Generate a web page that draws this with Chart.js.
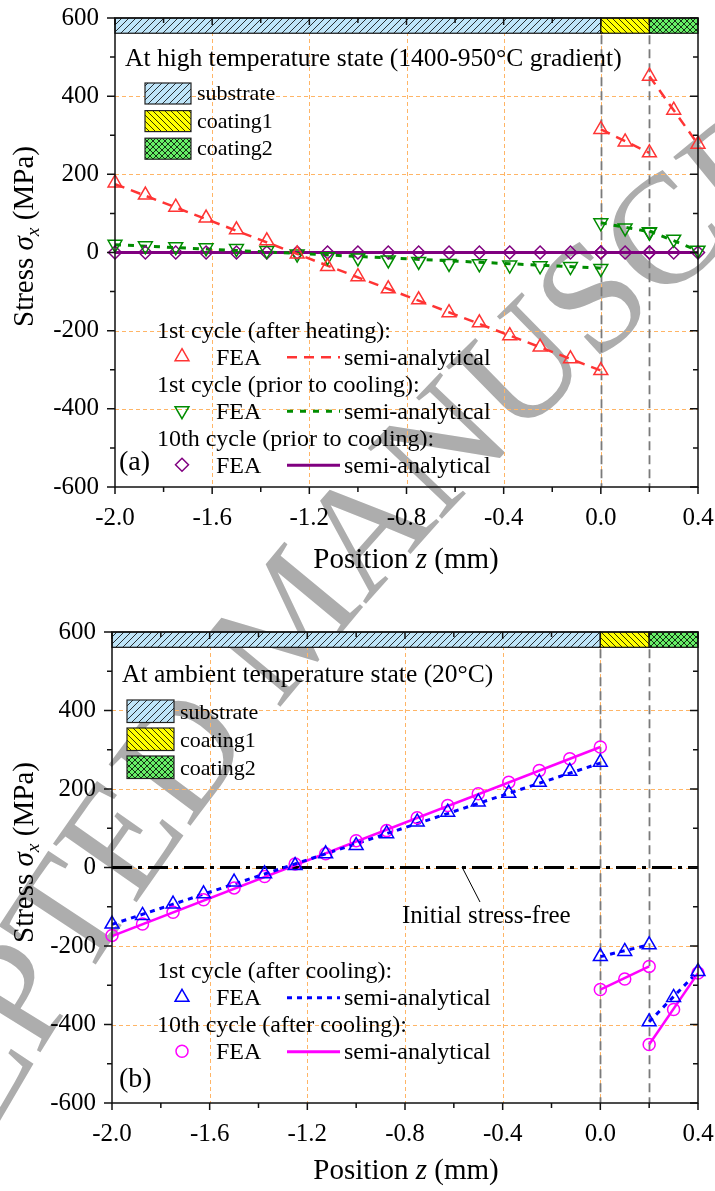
<!DOCTYPE html>
<html>
<head>
<meta charset="utf-8">
<script src="https://cdn.jsdelivr.net/npm/chart.js@4.4.1/dist/chart.umd.min.js"></script>
<style>
  html, body { margin: 0; padding: 0; background: #fff; }
  #wrap { position: relative; width: 715px; height: 1191px; overflow: hidden; background: #fff; }
  #wrap canvas { position: absolute; left: 0; }
</style>
</head>
<body>
<div id="wrap">
  <canvas id="stamp" width="715" height="1191" style="top:0"></canvas>
  <canvas id="panelA" width="715" height="595" style="top:0"></canvas>
  <canvas id="panelB" width="715" height="596" style="top:595px"></canvas>
</div>
<script>
// ---------- data ----------
// node positions along z (mm) in each layer
const zSubstrate = [-2.0, -1.875, -1.75, -1.625, -1.5, -1.375, -1.25, -1.125, -1.0,
                    -0.875, -0.75, -0.625, -0.5, -0.375, -0.25, -0.125, 0.0];
const zCoating1 = [0.0, 0.1, 0.2];
const zCoating2 = [0.2, 0.3, 0.4];
// end points of the semi-analytical solution in each layer
const zLineSub = [-2.0, 0.0];
const zLineC1 = [0.0, 0.2];
const zLineC2 = [0.2, 0.4];
const zLineAll = [-2.0, 0.4];

const xTicks = [-2.0, -1.6, -1.2, -0.8, -0.4, 0.0, 0.4];
const xMinorTicks = [-1.8, -1.4, -1.0, -0.6, -0.2, 0.2];
const yTicks = [-600, -400, -200, 0, 200, 400, 600];
const yMinorTicks = [-500, -300, -100, 100, 300, 500];

const layerNames = ['substrate', 'coating1', 'coating2'];
const layerSpans = [[-2.0, 0.0], [0.0, 0.2], [0.2, 0.4]];
const interfaces = [0.0, 0.2];

// (a) high temperature state, 1st cycle after heating
const heatFeaSub = [178, 147, 116, 88, 58, 30, -4, -36, -62, -93, -121, -154, -180, -213, -242, -272, -302];
const heatFeaC1 = [315, 283, 255];
const heatFeaC2 = [451, 364, 277];
const heatSemiSub = [175, -302];
const heatSemiC1 = [315, 255];
const heatSemiC2 = [451, 277];

// (a) 1st cycle prior to cooling
const holdFeaSub = [21, 17, 15, 12, 10, 5, -4, -11, -14, -19, -23, -28, -29, -32, -34, -36, -41];
const holdFeaC1 = [76, 63, 53];
const holdFeaC2 = [52, 34, 6];
const holdSemiSub = [20, -40];
const holdSemiC1 = [76, 53];
const holdSemiC2 = [55, 5];

// (a) 10th cycle prior to cooling
const hold10FeaSub = [0, 0, 0, 0, 0, 0, 0, 0, 0, 0, 0, 0, 0, 0, 0, 0, 0];
const hold10FeaC1 = [0, 0, 0];
const hold10FeaC2 = [0, 0, 0];
const hold10Semi = [0, 0];

// (b) 1st cycle after cooling
const coolFeaSub = [-144, -122, -93, -67, -37, -16, 5, 35, 56, 86, 116, 141, 167, 189, 217, 245, 268];
const coolFeaC1 = [-227, -214, -197];
const coolFeaC2 = [-393, -331, -265];
const coolSemiSub = [-145, 266];
const coolSemiC1 = [-227, -197];
const coolSemiC2 = [-393, -265];

// (b) 10th cycle after cooling
const cool10FeaSub = [-173, -144, -114, -82, -52, -23, 9, 35, 68, 94, 127, 158, 188, 217, 247, 277, 307];
const cool10FeaC1 = [-311, -284, -252];
const cool10FeaC2 = [-451, -362, -269];
const cool10SemiSub = [-175, 307];
const cool10SemiC1 = [-311, -252];
const cool10SemiC2 = [-451, -269];

// (b) reference: initial stress-free state
const stressFree = [0, 0];

// ---------- styling helpers ----------
const SERIF = "'Liberation Serif','Times New Roman',serif";
const fnt = (size, italic) => (italic ? 'italic ' : '') + size + 'px ' + SERIF;

const RED = '#ff3434', GREEN = '#008c00', PURPLE = '#800080', BLUE = '#0000ff', MAGENTA = '#ff00ff';
const DASH_RED = [10, 7], DOT_GREEN = [6, 7], DOT_BLUE = [5, 5], DASH_DOT = [20, 6, 4, 6];

const pts = (xs, ys) => xs.map((x, i) => ({ x, y: ys[i] }));

function markerSet(data, color, style, rotation, radius) {
  return {
    data, showLine: false, clip: false,
    pointStyle: style, pointRotation: rotation || 0, pointRadius: radius,
    pointBorderColor: color, pointBackgroundColor: 'rgba(0,0,0,0)', pointBorderWidth: 1.5,
    borderColor: color, backgroundColor: 'rgba(0,0,0,0)'
  };
}
function curveSet(data, color, dash, width) {
  return {
    data, showLine: true, pointRadius: 0, borderColor: color, backgroundColor: color,
    borderWidth: width, borderDash: dash || [], fill: false, tension: 0
  };
}

function layerPattern(ctx, name) {
  const s = name === 'substrate' ? 7 : 6;
  const c = document.createElement('canvas');
  c.width = s; c.height = s;
  const g = c.getContext('2d');
  g.fillStyle = name === 'substrate' ? '#bfe5f9' : name === 'coating1' ? '#ffff00' : '#66ee66';
  g.fillRect(0, 0, s, s);
  g.strokeStyle = '#000';
  g.lineWidth = 0.8;
  g.beginPath();
  if (name !== 'coating1') {           // "/" strokes
    g.moveTo(-1, s + 1); g.lineTo(s + 1, -1);
    g.moveTo(-1, 1); g.lineTo(1, -1);
    g.moveTo(s - 1, s + 1); g.lineTo(s + 1, s - 1);
  }
  if (name !== 'substrate') {          // "\" strokes
    g.moveTo(-1, -1); g.lineTo(s + 1, s + 1);
    g.moveTo(s - 1, -1); g.lineTo(s + 1, 1);
    g.moveTo(-1, s - 1); g.lineTo(1, s + 1);
  }
  g.stroke();
  return ctx.createPattern(c, 'repeat');
}

function drawMarker(ctx, style, x, y, r, color) {
  ctx.save();
  ctx.strokeStyle = color; ctx.lineWidth = 1.5; ctx.setLineDash([]);
  ctx.beginPath();
  if (style === 'triangle' || style === 'triangleDown') {
    const d = style === 'triangle' ? 1 : -1;
    ctx.moveTo(x, y - d * r);
    ctx.lineTo(x + r * 0.866, y + d * r / 2);
    ctx.lineTo(x - r * 0.866, y + d * r / 2);
    ctx.closePath();
  } else if (style === 'rectRot') {
    ctx.moveTo(x, y - r); ctx.lineTo(x + r, y); ctx.lineTo(x, y + r); ctx.lineTo(x - r, y); ctx.closePath();
  } else {
    ctx.arc(x, y, r, 0, Math.PI * 2);
  }
  ctx.stroke();
  ctx.restore();
}

function put(ctx, str, x, y, size, italic, align) {
  ctx.font = fnt(size, italic);
  ctx.fillStyle = '#000';
  ctx.textAlign = align || 'left';
  ctx.textBaseline = 'alphabetic';
  ctx.fillText(str, x, y);
  return ctx.measureText(str).width;
}

// text made of runs: [string, italic, sizeScale, baselineShift]
function runsWidth(ctx, runs, size) {
  let w = 0;
  for (const [s, it, k] of runs) { ctx.font = fnt(size * (k || 1), it); w += ctx.measureText(s).width; }
  return w;
}
function putRuns(ctx, runs, x, y, size) {
  let cx = x;
  for (const [s, it, k, dy] of runs) cx += put(ctx, s, cx, y + (dy || 0), size * (k || 1), it);
}

// ---------- manuscript stamp behind both panels ----------
(function drawStamp() {
  const ctx = document.getElementById('stamp').getContext('2d');
  const text = 'ACCEPTED MANUSCRIPT';
  const size = 156;
  const cx = 2877, cy = 2771, R = 3368;          // arc the letters follow
  ctx.font = fnt(size);
  ctx.fillStyle = '#adadad';
  ctx.textAlign = 'center';
  ctx.textBaseline = 'alphabetic';
  const adv = [...text].map(ch => ctx.measureText(ch).width);
  // anchor: centre of the "U"
  const iU = text.indexOf('U');
  const thetaU = Math.atan2(362 - cy, 516 - cx);
  let s = 0;
  const centres = [];
  for (let i = 0; i < text.length; i++) {
    if (i > 0) s += (adv[i - 1] + adv[i]) / 2;
    centres.push(s);
  }
  const sU = centres[iU];
  for (let i = 0; i < text.length; i++) {
    const th = thetaU + (centres[i] - sU) / R;
    const px = cx + R * Math.cos(th), py = cy + R * Math.sin(th);
    ctx.save();
    ctx.translate(px, py);
    ctx.rotate(th + Math.PI / 2);
    ctx.fillText(text[i], 0, size * 0.33);
    ctx.restore();
  }
})();

// ---------- panel decoration plugin ----------
const panelDecor = {
  id: 'panelDecor',
  beforeDatasetsDraw(chart, args, o) {
    const { ctx, chartArea: a, scales: { x, y } } = chart;
    ctx.save();
    // orange dashed grid
    ctx.strokeStyle = '#ffb566';
    ctx.lineWidth = 1;
    ctx.setLineDash([4, 3]);
    ctx.beginPath();
    for (const v of xTicks) {
      const p = Math.round(x.getPixelForValue(v)) + 0.5;
      if (p <= a.left + 1 || p >= a.right - 1) continue;
      ctx.moveTo(p, a.top); ctx.lineTo(p, a.bottom);
    }
    for (const v of yTicks) {
      const p = Math.round(y.getPixelForValue(v)) + 0.5;
      if (p <= a.top + 1 || p >= a.bottom - 1) continue;
      ctx.moveTo(a.left, p); ctx.lineTo(a.right, p);
    }
    ctx.stroke();

    // layer band along the top edge
    const bandTop = y.getPixelForValue(600), bandBot = y.getPixelForValue(o.bandBottom);
    ctx.setLineDash([]);
    layerSpans.forEach((sp, i) => {
      const x0 = x.getPixelForValue(sp[0]), x1 = x.getPixelForValue(sp[1]);
      ctx.fillStyle = layerPattern(ctx, layerNames[i]);
      ctx.fillRect(x0, bandTop, x1 - x0, bandBot - bandTop);
      ctx.strokeStyle = '#111'; ctx.lineWidth = 1.2;
      ctx.strokeRect(x0, bandTop, x1 - x0, bandBot - bandTop);
    });

    // layer interfaces
    ctx.strokeStyle = '#7a7a7a';
    ctx.lineWidth = 1.8;
    ctx.setLineDash([9, 5]);
    ctx.beginPath();
    for (const v of interfaces) {
      const p = Math.round(x.getPixelForValue(v)) + 0.5;
      ctx.moveTo(p, bandBot + 2); ctx.lineTo(p, a.bottom);
    }
    ctx.stroke();
    ctx.restore();
  },
  afterDatasetsDraw(chart, args, o) {
    const { ctx, chartArea: a, scales: { x, y } } = chart;
    ctx.save();
    ctx.setLineDash([]);
    ctx.strokeStyle = '#111';
    ctx.lineWidth = 1.5;
    ctx.strokeRect(a.left, a.top, a.right - a.left, a.bottom - a.top);
    ctx.beginPath();
    const xt = (v, len) => {
      const p = x.getPixelForValue(v);
      ctx.moveTo(p, a.bottom); ctx.lineTo(p, a.bottom + len);
      ctx.moveTo(p, a.top); ctx.lineTo(p, a.top + len);
    };
    const yt = (v, len) => {
      const p = y.getPixelForValue(v);
      ctx.moveTo(a.left, p); ctx.lineTo(a.left - len, p);
      ctx.moveTo(a.right, p); ctx.lineTo(a.right - len, p);
    };
    xTicks.forEach(v => xt(v, 7)); xMinorTicks.forEach(v => xt(v, 5));
    yTicks.forEach(v => yt(v, 8)); yMinorTicks.forEach(v => yt(v, 5));
    ctx.stroke();
    ctx.restore();
  },
  afterDraw(chart, args, o) {
    const { ctx } = chart;
    ctx.save();
    // state caption
    put(ctx, o.caption.text, o.caption.x, o.caption.y, 25.5);

    // layer legend
    const L = o.layerKey;
    layerNames.forEach((n, i) => {
      const top = L.y + i * L.dy;
      ctx.fillStyle = layerPattern(ctx, n);
      ctx.fillRect(L.x, top, L.w, L.h);
      ctx.strokeStyle = '#222'; ctx.lineWidth = 1.2; ctx.setLineDash([]);
      ctx.strokeRect(L.x, top, L.w, L.h);
      put(ctx, n, L.x + L.w + 6, top + L.h - 4, 22);
    });

    // series legend
    const S = o.seriesKey;
    S.groups.forEach((g, i) => {
      const yh = S.y + i * 2 * S.dy, yi = yh + S.dy;
      put(ctx, g.head, S.x, yh, 24);
      drawMarker(ctx, g.marker, S.markerX, yi - 8, g.radius, g.color);
      put(ctx, 'FEA', S.feaX, yi, 24);
      ctx.strokeStyle = g.color; ctx.lineWidth = g.width; ctx.setLineDash(g.dash);
      ctx.beginPath(); ctx.moveTo(S.lineX0, yi - 7.5); ctx.lineTo(S.lineX1, yi - 7.5); ctx.stroke();
      ctx.setLineDash([]);
      put(ctx, 'semi-analytical', S.lineX1 + 4, yi, 24);
    });

    // panel tag
    put(ctx, o.tag.text, o.tag.x, o.tag.y, 28);

    // annotation
    if (o.note) {
      const N = o.note;
      ctx.strokeStyle = '#000'; ctx.lineWidth = 1; ctx.setLineDash([]);
      ctx.beginPath(); ctx.moveTo(N.from[0], N.from[1]); ctx.lineTo(N.to[0], N.to[1]); ctx.stroke();
      put(ctx, N.text, N.x, N.y, 25);
    }

    // axis titles
    const xRuns = [['Position ', false], ['z', true], [' (mm)', false]];
    const xw = runsWidth(ctx, xRuns, 29);
    putRuns(ctx, xRuns, o.xTitle.cx - xw / 2, o.xTitle.y, 29);

    const yRuns = [['Stress ', false], ['σ', true], ['x', true, 0.68, 6], [' (MPa)', false]];
    ctx.save();
    ctx.translate(o.yTitle.x, o.yTitle.y);
    ctx.rotate(-Math.PI / 2);
    putRuns(ctx, yRuns, 0, 0, 29);
    ctx.restore();
    ctx.restore();
  }
};

// ---------- chart factory ----------
function makePanel(canvasId, datasets, box, decor) {
  const canvas = document.getElementById(canvasId);
  const H = canvas.height;
  return new Chart(canvas, {
    type: 'scatter',
    data: { datasets },
    plugins: [panelDecor],
    options: {
      responsive: false,
      animation: false,
      devicePixelRatio: 1,
      layout: { padding: { top: box.top, right: 715 - box.right, left: 0, bottom: 0 } },
      plugins: { legend: { display: false }, tooltip: { enabled: false }, panelDecor: decor },
      scales: {
        x: {
          type: 'linear', min: -2.0, max: 0.4,
          afterBuildTicks: s => { s.ticks = xTicks.map(v => ({ value: v })); },
          afterFit: s => { s.height = H - box.bottom; s.paddingLeft = 0; s.paddingRight = 0; },
          grid: { display: false, drawTicks: false }, border: { display: false },
          ticks: { padding: 16, color: '#000', font: { family: SERIF, size: 25 },
                   callback: v => (Math.abs(v) < 1e-9 ? 0 : v).toFixed(1), maxRotation: 0 }
        },
        y: {
          type: 'linear', min: -600, max: 600,
          afterBuildTicks: s => { s.ticks = yTicks.map(v => ({ value: v })); },
          afterFit: s => { s.width = box.left; s.paddingTop = 0; s.paddingBottom = 0; },
          grid: { display: false, drawTicks: false }, border: { display: false },
          ticks: { padding: 16, color: '#000', font: { family: SERIF, size: 25 },
                   callback: v => String(Math.round(v)) }
        }
      }
    }
  });
}

// ---------- panel (a): high temperature ----------
makePanel('panelA', [
  markerSet(pts(zSubstrate, heatFeaSub).concat(pts(zCoating1, heatFeaC1), pts(zCoating2, heatFeaC2)), RED, 'triangle', 0, 8),
  markerSet(pts(zSubstrate, holdFeaSub).concat(pts(zCoating1, holdFeaC1), pts(zCoating2, holdFeaC2)), GREEN, 'triangle', 180, 8),
  markerSet(pts(zSubstrate, hold10FeaSub).concat(pts(zCoating1, hold10FeaC1), pts(zCoating2, hold10FeaC2)), PURPLE, 'rectRot', 0, 6.5),
  curveSet(pts(zLineSub, heatSemiSub), RED, DASH_RED, 2.5),
  curveSet(pts(zLineC1, heatSemiC1), RED, DASH_RED, 2.5),
  curveSet(pts(zLineC2, heatSemiC2), RED, DASH_RED, 2.5),
  curveSet(pts(zLineSub, holdSemiSub), GREEN, DOT_GREEN, 3),
  curveSet(pts(zLineC1, holdSemiC1), GREEN, DOT_GREEN, 3),
  curveSet(pts(zLineC2, holdSemiC2), GREEN, DOT_GREEN, 3),
  curveSet(pts(zLineAll, hold10Semi), PURPLE, [], 3)
], { left: 115, right: 698, top: 18, bottom: 487 }, {
  bandBottom: 561,
  caption: { text: 'At high temperature state (1400-950°C gradient)', x: 125, y: 66 },
  layerKey: { x: 145, y: 83, w: 46, h: 21, dy: 27.6 },
  seriesKey: {
    x: 157, y: 337.7, dy: 27, markerX: 182, feaX: 216, lineX0: 287, lineX1: 340,
    groups: [
      { head: '1st cycle (after heating):', marker: 'triangle', radius: 8, color: RED, dash: DASH_RED, width: 2.5 },
      { head: '1st cycle (prior to cooling):', marker: 'triangleDown', radius: 8, color: GREEN, dash: DOT_GREEN, width: 3 },
      { head: '10th cycle (prior to cooling):', marker: 'rectRot', radius: 6.5, color: PURPLE, dash: [], width: 3 }
    ]
  },
  tag: { text: '(a)', x: 119, y: 470 },
  xTitle: { cx: 406, y: 568 },
  yTitle: { x: 33, y: 327 }
});

// ---------- panel (b): ambient temperature ----------
makePanel('panelB', [
  markerSet(pts(zSubstrate, coolFeaSub).concat(pts(zCoating1, coolFeaC1), pts(zCoating2, coolFeaC2)), BLUE, 'triangle', 0, 8),
  markerSet(pts(zSubstrate, cool10FeaSub).concat(pts(zCoating1, cool10FeaC1), pts(zCoating2, cool10FeaC2)), MAGENTA, 'circle', 0, 6),
  curveSet(pts(zLineSub, coolSemiSub), BLUE, DOT_BLUE, 3),
  curveSet(pts(zLineC1, coolSemiC1), BLUE, DOT_BLUE, 3),
  curveSet(pts(zLineC2, coolSemiC2), BLUE, DOT_BLUE, 3),
  curveSet(pts(zLineSub, cool10SemiSub), MAGENTA, [], 2.5),
  curveSet(pts(zLineC1, cool10SemiC1), MAGENTA, [], 2.5),
  curveSet(pts(zLineC2, cool10SemiC2), MAGENTA, [], 2.5),
  curveSet(pts(zLineAll, stressFree), '#000', DASH_DOT, 3)
], { left: 112, right: 698, top: 37, bottom: 508 }, {
  bandBottom: 561,
  caption: { text: 'At ambient temperature state (20°C)', x: 122, y: 86.7 },
  layerKey: { x: 127, y: 105, w: 47, h: 22.5, dy: 28 },
  seriesKey: {
    x: 157, y: 383.3, dy: 27, markerX: 182, feaX: 216, lineX0: 287, lineX1: 340,
    groups: [
      { head: '1st cycle (after cooling):', marker: 'triangle', radius: 8, color: BLUE, dash: DOT_BLUE, width: 3 },
      { head: '10th cycle (after cooling):', marker: 'circle', radius: 6, color: MAGENTA, dash: [], width: 3 }
    ]
  },
  note: { text: 'Initial stress-free', x: 402, y: 328, from: [462, 272], to: [480, 307] },
  tag: { text: '(b)', x: 119, y: 491.7 },
  xTitle: { cx: 406, y: 584 },
  yTitle: { x: 33, y: 348 }
});
</script>
</body>
</html>
